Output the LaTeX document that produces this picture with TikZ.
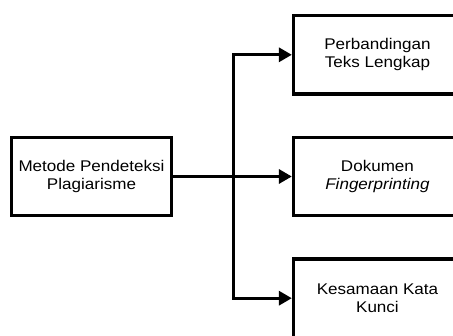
\documentclass[tikz,border=0pt]{standalone}
\usepackage{fontspec}
\setmainfont{Liberation Sans}[FakeStretch=1.1]
\usetikzlibrary{positioning, arrows.meta}

\begin{document}
\begin{tikzpicture}[x = 1pt, y = -1pt,
    box/.style = {draw, line width = 3.2pt, minimum height = 78.5pt, inner sep = 0pt,
      align = center, font = \fontsize{15.5}{18}\selectfont},
    link/.style = {line width = 3.2pt},
    arrow/.style = {link, -{Triangle[length = 13pt, width = 14pt]}}]
    \clip (0, 0) rectangle (453, 336);

    \node[box, minimum width = 159.5pt] (metode) at (91.5, 176.5) {Metode Pendeteksi\\Plagiarisme};
    \node[box, minimum width = 168pt, right = 119pt of metode] (dokumen) {Dokumen\\\textit{Fingerprinting}};
    \node[box, minimum width = 168pt, above = 40pt of dokumen] (teks) {Perbandingan\\Teks Lengkap};
    \node[box, minimum width = 168pt, below = 40pt of dokumen] (kunci) {Kesamaan Kata\\Kunci};

    \coordinate[right = 61pt of metode] (split);

    \draw[link] (metode) -- (split);
    \draw[arrow] (split) -- (dokumen);
    \draw[arrow] (split) |- (teks.west);
    \draw[arrow] (split) |- (kunci.west);
\end{tikzpicture}
\end{document}
